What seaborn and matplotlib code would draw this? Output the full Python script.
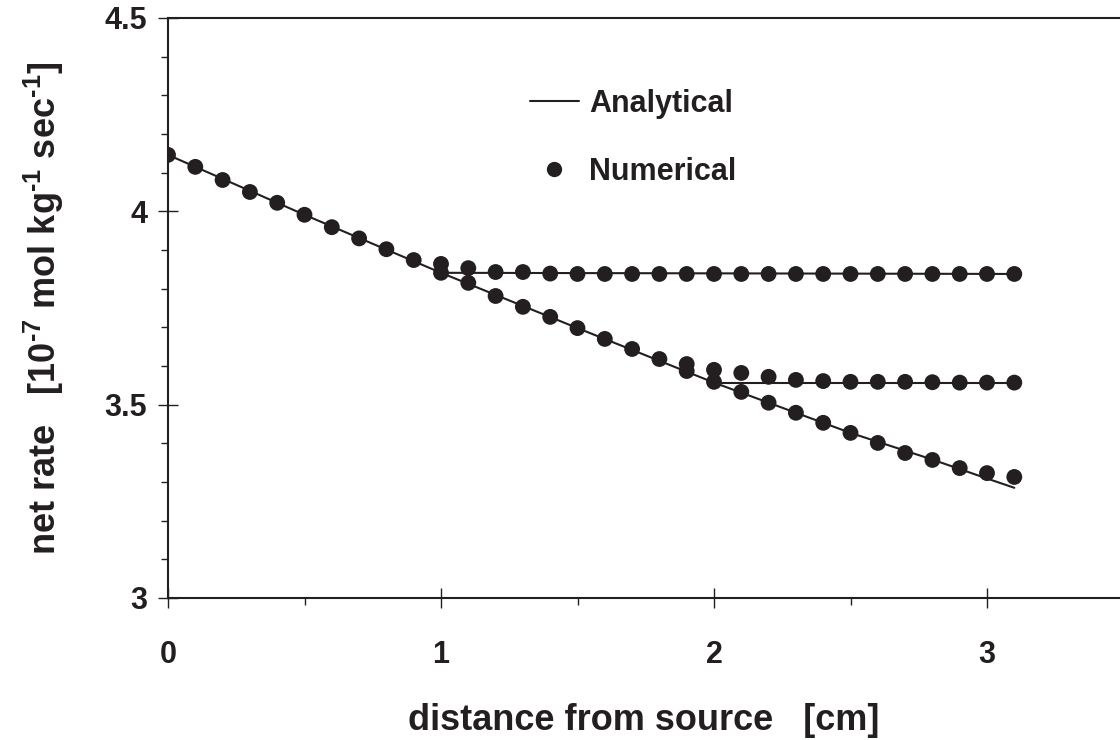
import matplotlib
matplotlib.use("Agg")
import matplotlib.pyplot as plt
from matplotlib.lines import Line2D
from matplotlib.ticker import MultipleLocator, FuncFormatter
import seaborn as sns
import pandas as pd

# ---- data ----
num_x = [0.0, 0.1, 0.2, 0.3, 0.4, 0.5, 0.6, 0.7, 0.8, 0.9, 1.0, 1.1, 1.2, 1.3, 1.4, 1.5,
         1.6, 1.7, 1.8, 1.9, 2.0, 2.1, 2.2, 2.3, 2.4, 2.5, 2.6, 2.7, 2.8, 2.9, 3.0, 3.1]
num_main = [4.146, 4.115, 4.081, 4.050, 4.022, 3.991, 3.959, 3.930, 3.902, 3.874, 3.841,
            3.815, 3.781, 3.753, 3.727, 3.698, 3.670, 3.644, 3.618, 3.587, 3.559, 3.533,
            3.505, 3.479, 3.453, 3.427, 3.401, 3.375, 3.357, 3.336, 3.323, 3.313]
num_b1_x = [1.0, 1.1, 1.2, 1.3, 1.4, 1.5, 1.6, 1.7, 1.8, 1.9, 2.0, 2.1, 2.2, 2.3, 2.4,
            2.5, 2.6, 2.7, 2.8, 2.9, 3.0, 3.1]
num_b1 = [3.864, 3.853, 3.843, 3.843, 3.839, 3.838, 3.838, 3.838, 3.838, 3.838, 3.838,
          3.838, 3.838, 3.838, 3.838, 3.838, 3.838, 3.838, 3.838, 3.838, 3.838, 3.838]
num_b2_x = [1.9, 2.0, 2.1, 2.2, 2.3, 2.4, 2.5, 2.6, 2.7, 2.8, 2.9, 3.0, 3.1]
num_b2 = [3.605, 3.590, 3.582, 3.572, 3.564, 3.561, 3.559, 3.559, 3.559, 3.558, 3.557,
          3.557, 3.557]

ana_x = [0.0, 0.5, 1.0, 1.5, 2.0, 2.5, 2.8, 3.0, 3.1]
ana_main = [4.146, 3.991, 3.841, 3.698, 3.557, 3.427, 3.358, 3.309, 3.285]
ana_b1_x = [1.0, 3.1]
ana_b1 = [3.841, 3.838]
ana_b2_x = [2.0, 3.1]
ana_b2 = [3.557, 3.557]

legend_labels = ["Analytical", "Numerical"]
x_label = "distance from source   [cm]"
y_label = r"net rate   [10$^{\text{-}7}$ mol kg$^{\text{-}1}$ sec$^{\text{-}1}$]"

# ---- style ----
sns.set_style("ticks")
plt.rcParams["font.family"] = ["Liberation Sans", "DejaVu Sans"]
plt.rcParams["font.weight"] = "bold"
plt.rcParams["mathtext.fontset"] = "custom"
plt.rcParams["mathtext.rm"] = "Liberation Sans:bold"
plt.rcParams["mathtext.it"] = "Liberation Sans:bold"
plt.rcParams["mathtext.bf"] = "Liberation Sans:bold"

ink = "#231f20"

fig = plt.figure(figsize=(11.2, 7.4), dpi=100)
ax = fig.add_axes([0.15, 0.1919, 0.85, 0.7838])

df_ana = [pd.DataFrame({"x": ana_x, "y": ana_main}),
          pd.DataFrame({"x": ana_b1_x, "y": ana_b1}),
          pd.DataFrame({"x": ana_b2_x, "y": ana_b2})]
for d in df_ana:
    sns.lineplot(data=d, x="x", y="y", ax=ax, color=ink, linewidth=1.5,
                 estimator=None, sort=False, legend=False)

df_num = pd.concat([
    pd.DataFrame({"x": num_x, "y": num_main}),
    pd.DataFrame({"x": num_b1_x, "y": num_b1}),
    pd.DataFrame({"x": num_b2_x, "y": num_b2}),
])
sns.scatterplot(data=df_num, x="x", y="y", ax=ax, color=ink, s=130,
                edgecolor="none", legend=False, zorder=3)

ax.set_xlim(0, 952 / 273)
ax.set_ylim(3, 4.5)
ax.xaxis.set_major_locator(MultipleLocator(1))
ax.xaxis.set_minor_locator(MultipleLocator(0.5))
ax.yaxis.set_major_locator(MultipleLocator(0.5))
ax.yaxis.set_minor_locator(MultipleLocator(0.1))
ax.yaxis.set_major_formatter(FuncFormatter(lambda v, p: f"{v:g}"))

ax.tick_params(which="major", direction="inout", length=14, width=1.0,
               labelsize=22, color=ink, labelcolor=ink)
ax.tick_params(axis="y", which="major", pad=8)
ax.tick_params(axis="x", which="major", pad=23)
ax.tick_params(which="minor", direction="out", length=5, width=1.0, color=ink)
for lab in ax.get_xticklabels() + ax.get_yticklabels():
    lab.set_fontweight("bold")

for s in ["left", "bottom", "top"]:
    ax.spines[s].set_color(ink)
    ax.spines[s].set_linewidth(1.5)
ax.spines["right"].set_visible(False)

ax.set_xlabel(x_label, fontsize=26, fontweight="bold", color=ink, labelpad=24)
ax.set_ylabel(y_label, fontsize=26, fontweight="bold", color=ink, labelpad=28)

handles = [Line2D([], [], color=ink, linewidth=1.5),
           Line2D([], [], color=ink, linestyle="none", marker="o", markersize=11,
                  markeredgecolor="none")]
leg = ax.legend(handles, legend_labels, loc="center left",
                bbox_to_anchor=(0.364, 0.793), frameon=False, borderpad=0,
                handlelength=1.6, handletextpad=0.35, labelspacing=1.25,
                prop={"family": "Liberation Sans", "weight": "bold", "size": 22})
for t in leg.get_texts():
    t.set_color(ink)

fig.savefig("out.png", dpi=100)
